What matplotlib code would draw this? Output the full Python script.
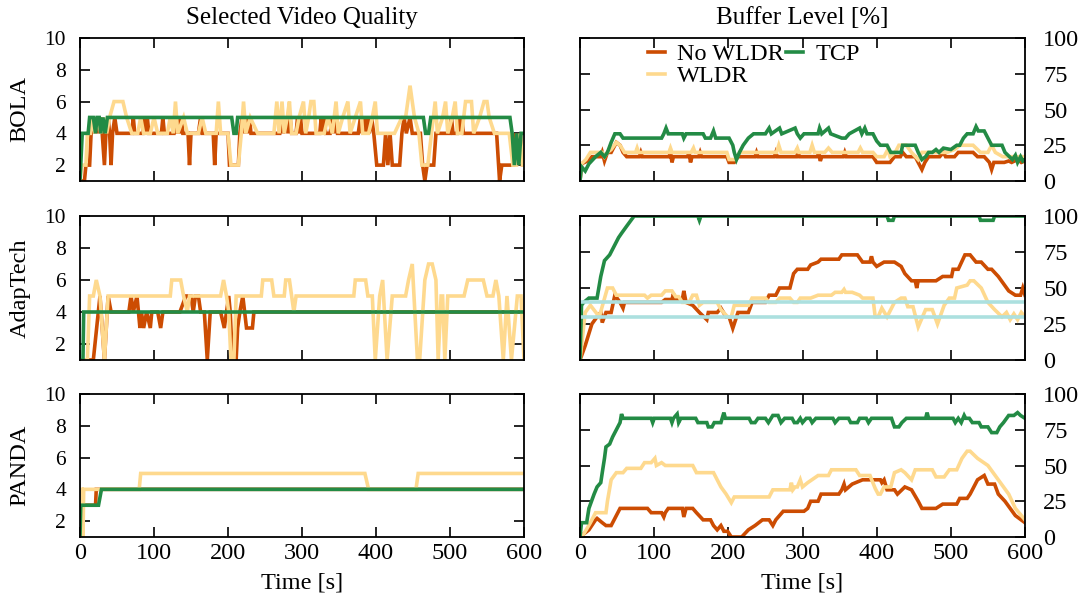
import matplotlib
matplotlib.use("Agg")
import matplotlib.pyplot as plt
from matplotlib.lines import Line2D

# ---------------------------------------------------------------- data
# Each series is a list of (time [s], value) knots joined by straight lines.

# BOLA: selected quality level
bola_q_nowldr = [(0,1),(6,1),(8,2),(13,2),(15,4),(18,5),(20,4),(23,5),(25,4),(28,5),(30,4),(33,2),(35,4),(38,5),(40,4),(42,2),(44,4),(47,5),(50,4),(70,4),(72,5),(74,4),(85,4),(87,5),(89,4),(91,5),(93,4),(110,4),(112,5),(114,4),(127,4),(129,5),(131,4),(133,5),(135,4),(137,5),(139,4),(146,4),(148,2),(150,4),(160,4),(163,5),(165,4),(180,4),(182,2),(184,4),(200,4),(202,2),(214,2),(216,4),(219,5),(221,4),(224,5),(226,4),(229,5),(231,4),(270,4),(273,5),(275,4),(279,5),(281,4),(284,5),(286,4),(292,4),(294,5),(296,4),(298,5),(300,4),(324,4),(326,5),(328,4),(330,5),(332,4),(338,4),(341,5),(343,4),(346,5),(348,4),(376,4),(379,5),(381,4),(384,5),(386,4),(389,5),(391,4),(394,5),(397,4),(401,2),(410,2),(413,4),(416,2),(419,4),(422,2),(432,2),(435,4),(438,5),(441,4),(446,5),(449,4),(460,4),(463,2),(466,1),(469,2),(478,2),(481,4),(500,4),(502,5),(504,4),(510,4),(512,5),(514,4),(516,5),(518,4),(563,4),(567,1),(570,2),(586,2),(589,4),(592,2),(595,4),(598,2),(600,2)]
bola_q_wldr = [(0,1),(2,2),(8,2),(10,4),(14,4),(17,5),(20,4),(24,5),(28,4),(32,5),(36,4),(40,5),(46,6),(58,6),(63,5),(70,4),(78,4),(82,5),(86,4),(95,4),(100,5),(105,4),(118,4),(122,5),(126,4),(129,6),(132,4),(140,5),(145,4),(160,4),(165,5),(170,4),(184,4),(187,6),(190,4),(200,4),(204,2),(214,2),(218,4),(221,6),(224,4),(230,5),(240,4),(262,4),(266,6),(269,4),(273,6),(276,4),(280,5),(283,6),(286,4),(292,4),(296,5),(302,6),(305,4),(309,5),(312,6),(316,6),(319,4),(330,4),(335,5),(341,4),(346,6),(349,4),(355,5),(362,6),(365,4),(372,5),(379,6),(382,4),(390,4),(395,5),(399,6),(402,4),(420,4),(425,4),(435,5),(440,5),(446,7),(452,5),(458,4),(462,2),(470,2),(475,4),(480,6),(483,4),(490,5),(494,6),(497,4),(503,5),(507,6),(510,4),(516,4),(521,6),(529,6),(532,4),(540,5),(546,6),(550,6),(553,5),(560,4),(580,4),(585,2),(590,2),(595,4),(598,2),(600,2)]
bola_q_tcp = [(0,1),(3,4),(11,4),(13,5),(18,5),(21,4),(23,5),(26,5),(28,4),(31,5),(34,4),(37,5),(205,5),(208,4),(211,4),(213,5),(464,5),(467,4),(471,4),(474,5),(581,5),(584,4),(587,2),(590,4),(593,2),(596,4),(600,4)]

# BOLA: buffer level
bola_b_nowldr = [(0,0),(2,12),(10,14),(16,17),(28,17),(30,20),(33,14),(37,20),(42,20),(49,27),(54,25),(58,20),(63,17),(80,17),(82,20),(84,17),(120,17),(122,20),(124,13),(126,17),(145,17),(147,20),(149,13),(151,17),(160,17),(162,20),(164,17),(198,17),(201,13),(208,13),(213,17),(236,17),(238,20),(240,17),(262,17),(264,20),(266,17),(292,17),(294,20),(296,17),(320,17),(322,20),(324,14),(326,17),(355,17),(357,20),(359,17),(395,17),(400,13),(418,13),(424,17),(432,17),(435,20),(440,17),(452,17),(456,13),(461,8),(465,13),(470,17),(485,17),(490,20),(493,17),(505,17),(510,20),(520,20),(530,20),(536,17),(545,17),(552,13),(555,8),(558,13),(572,13),(578,14),(582,13),(590,15),(595,13),(600,14)]
bola_b_wldr = [(0,0),(2,12),(8,15),(14,20),(30,20),(33,17),(37,20),(42,22),(49,27),(54,25),(60,20),(75,20),(77,23),(79,20),(120,20),(122,23),(124,20),(150,20),(153,23),(155,20),(198,20),(201,15),(210,15),(215,20),(265,20),(268,25),(271,20),(290,20),(293,23),(295,20),(310,20),(313,25),(316,20),(330,20),(335,23),(340,20),(375,20),(378,23),(381,20),(395,20),(400,17),(410,17),(415,22),(418,17),(425,20),(430,25),(440,25),(447,20),(456,15),(461,20),(475,20),(495,20),(505,22),(512,25),(530,25),(540,20),(550,20),(555,25),(560,20),(570,17),(600,17)]
bola_b_tcp = [(0,0),(2,10),(7,7),(12,12),(21,17),(28,20),(33,17),(37,20),(42,27),(47,33),(54,33),(58,30),(110,30),(113,33),(116,37),(119,33),(138,33),(140,30),(143,33),(166,33),(169,30),(176,30),(180,35),(183,30),(201,30),(206,25),(208,20),(211,15),(215,20),(220,25),(227,30),(234,33),(250,33),(255,37),(258,33),(269,37),(272,33),(290,37),(293,33),(297,30),(302,33),(321,33),(323,37),(326,33),(335,37),(338,33),(353,30),(358,30),(363,33),(377,37),(380,33),(384,37),(387,33),(395,33),(400,28),(405,25),(414,25),(419,20),(433,20),(435,25),(452,25),(456,20),(461,15),(466,17),(470,20),(475,20),(480,22),(484,20),(490,23),(500,22),(508,25),(512,25),(517,30),(522,33),(530,33),(534,38),(537,35),(545,35),(550,30),(555,25),(569,25),(573,20),(583,15),(587,18),(590,13),(594,17),(597,14),(600,15)]

# AdapTech: selected quality level
adap_q_nowldr = [(0,1),(18,1),(27,5),(33,1),(38,5),(42,4),(66,4),(69,5),(72,4),(77,5),(81,3),(83,4),(86,3),(90,4),(95,3),(97,4),(105,4),(109,3),(112,4),(135,4),(143,5),(150,5),(153,4),(156,5),(160,5),(163,4),(168,4),(172,1),(176,4),(190,4),(195,3),(201,5),(203,4),(206,1),(211,1),(213,3),(216,4),(220,5),(225,3),(233,3),(235,4),(600,4)]
adap_q_wldr = [(0,1),(10,1),(13,5),(18,5),(22,6),(27,5),(33,1),(38,5),(122,5),(124,6),(136,6),(140,5),(145,4),(148,5),(190,5),(194,6),(198,5),(201,4),(204,1),(208,1),(211,5),(245,5),(247,6),(259,6),(262,5),(276,5),(278,6),(283,6),(286,5),(289,4),(292,5),(370,5),(372,6),(386,6),(389,5),(395,5),(399,1),(405,5),(409,6),(415,1),(422,5),(440,5),(444,6),(449,7),(456,1),(459,1),(466,6),(471,7),(476,7),(481,6),(484,1),(488,5),(490,5),(493,1),(497,5),(519,5),(524,6),(545,6),(550,5),(558,5),(562,6),(566,5),(572,1),(577,5),(583,1),(591,5),(596,5),(600,1)]
adap_q_tcp = [(0,1),(4,1),(5,4),(600,4)]

# AdapTech: buffer level
adap_b_nowldr = [(0,0),(7,10),(16,25),(23,30),(28,33),(30,26),(35,33),(42,33),(47,45),(54,40),(58,36),(60,40),(110,40),(115,42),(124,42),(126,46),(128,42),(138,42),(140,48),(143,40),(152,38),(161,33),(171,28),(173,33),(185,33),(190,36),(197,30),(201,30),(206,22),(213,33),(227,33),(232,40),(250,40),(255,45),(264,45),(269,50),(283,50),(288,60),(293,63),(307,63),(311,66),(321,68),(325,70),(349,70),(353,73),(374,73),(381,68),(391,68),(393,72),(395,68),(400,65),(410,68),(424,68),(433,65),(438,60),(447,55),(452,55),(454,50),(456,55),(480,55),(489,58),(501,58),(503,63),(510,63),(519,73),(526,73),(534,68),(541,68),(550,63),(555,63),(564,58),(571,53),(578,48),(587,45),(594,45),(597,50),(600,45)]
adap_b_wldr = [(0,0),(7,33),(14,38),(26,30),(37,50),(44,50),(49,45),(87,45),(91,43),(96,45),(110,45),(115,48),(124,48),(129,44),(133,44),(138,40),(147,40),(152,45),(157,45),(161,38),(166,40),(185,40),(190,35),(199,30),(204,30),(208,38),(227,38),(232,43),(250,43),(255,40),(264,40),(269,43),(283,43),(288,40),(293,40),(297,43),(311,43),(321,45),(339,45),(344,47),(353,47),(356,49),(358,47),(367,47),(377,45),(381,43),(395,43),(398,30),(402,30),(407,36),(414,30),(424,40),(433,43),(438,43),(442,37),(449,37),(456,23),(466,35),(475,35),(482,25),(491,38),(498,43),(505,43),(508,50),(522,52),(526,55),(531,55),(541,50),(550,40),(559,35),(569,30),(575,33),(580,28),(585,32),(590,28),(595,33),(600,30)]
adap_b_tcp = [(0,0),(2,38),(5,40),(12,43),(23,43),(28,58),(33,69),(40,73),(47,80),(52,85),(56,88),(63,93),(73,100),(159,100),(161,97),(163,100),(414,100),(416,97),(422,97),(424,100),(538,100),(540,97),(557,97),(559,100),(600,100)]
adap_b_thresholds = [30, 40]

# PANDA: selected quality level
panda_q_nowldr = [(0,1),(3,1),(4,3),(21,3),(22,4),(600,4)]
panda_q_wldr = [(0,4),(3,4),(4,1),(5,4),(80,4),(82,5),(385,5),(390,4),(454,4),(457,5),(600,5)]
panda_q_tcp = [(0,1),(1,3),(25,3),(29,4),(600,4)]

# PANDA: buffer level
panda_b_nowldr = [(0,0),(12,5),(21,12),(23,13),(30,10),(35,8),(42,8),(54,20),(91,20),(96,17),(110,17),(113,14),(115,17),(119,20),(138,20),(140,14),(143,20),(152,20),(157,17),(166,12),(176,12),(180,8),(185,5),(190,8),(194,4),(199,4),(204,0),(218,0),(227,5),(236,8),(246,12),(255,12),(260,8),(264,12),(274,18),(302,18),(307,20),(311,25),(321,25),(325,30),(349,30),(353,33),(356,37),(358,33),(367,37),(381,40),(405,40),(407,38),(410,40),(414,33),(424,33),(428,30),(438,35),(447,33),(456,25),(461,20),(480,20),(489,23),(508,23),(512,27),(522,27),(526,30),(531,35),(536,40),(545,43),(550,37),(559,37),(564,30),(573,25),(587,15),(600,10)]
panda_b_wldr = [(0,0),(5,2),(14,10),(21,17),(35,17),(37,25),(42,40),(49,45),(58,45),(63,48),(82,48),(87,52),(96,52),(101,55),(103,50),(110,52),(115,50),(152,50),(157,45),(180,45),(185,40),(190,35),(197,30),(204,24),(208,28),(255,28),(260,33),(283,33),(285,38),(287,33),(290,35),(293,35),(297,40),(300,35),(307,38),(321,43),(335,43),(339,47),(372,47),(377,43),(391,43),(398,34),(402,30),(405,30),(410,35),(419,35),(424,45),(433,47),(438,45),(447,40),(452,47),(475,47),(480,42),(491,42),(498,47),(508,47),(515,55),(522,60),(526,60),(536,55),(550,50),(564,40),(578,30),(587,20),(600,12)]
panda_b_tcp = [(0,0),(2,10),(9,10),(12,20),(19,30),(23,35),(28,38),(30,45),(33,55),(35,63),(40,65),(44,70),(49,75),(54,80),(56,86),(58,83),(96,83),(98,80),(100,83),(122,83),(124,80),(126,83),(131,86),(133,80),(136,83),(156,83),(159,80),(171,80),(173,77),(178,77),(181,80),(190,80),(194,87),(196,83),(228,83),(231,80),(236,80),(240,83),(250,83),(254,80),(260,85),(267,85),(271,80),(276,83),(286,83),(289,80),(293,80),(297,83),(300,80),(305,83),(310,83),(313,80),(318,83),(341,83),(344,80),(349,83),(362,83),(365,80),(374,80),(377,83),(386,83),(389,80),(393,83),(420,83),(424,77),(430,77),(434,80),(440,83),(466,83),(468,87),(470,83),(503,83),(506,80),(510,83),(514,80),(518,85),(520,83),(525,83),(529,80),(538,80),(541,77),(550,77),(555,73),(562,73),(566,77),(571,80),(578,85),(585,85),(590,87),(594,85),(600,83)]

schemes = ["BOLA", "AdapTech", "PANDA"]
series_labels = ["No WLDR", "WLDR", "TCP"]
time_ticks = [0, 100, 200, 300, 400, 500, 600]
quality_ticks = [2, 4, 6, 8, 10]
buffer_ticks = [0, 25, 50, 75, 100]

quality = [
    [bola_q_nowldr, bola_q_wldr, bola_q_tcp],
    [adap_q_nowldr, adap_q_wldr, adap_q_tcp],
    [panda_q_nowldr, panda_q_wldr, panda_q_tcp],
]
buffer = [
    [bola_b_nowldr, bola_b_wldr, bola_b_tcp],
    [adap_b_nowldr, adap_b_wldr, adap_b_tcp],
    [panda_b_nowldr, panda_b_wldr, panda_b_tcp],
]

# ---------------------------------------------------------------- style
colors = ["#cc4c02", "#fed98e", "#238b45"]
threshold_color = "#ace0df"
LW = 2.6
FS = 17.5          # titles, labels, x and right-hand tick labels
FS_LEFT = 15.5     # left-hand quality tick labels

plt.rcParams["font.family"] = ["Liberation Serif", "DejaVu Serif"]
plt.rcParams["font.size"] = FS

W, H = 1084, 599
fig = plt.figure(figsize=(W / 100, H / 100), dpi=100)


def add_axes_px(x0, x1, y0, y1):
    return fig.add_axes([x0 / W, 1 - y1 / H, (x1 - x0) / W, (y1 - y0) / H])


row_px = [(38, 181), (216, 360), (394, 537)]
left_px = (80, 524)
right_px = (580, 1025)


def style_axes(ax, right_labels, bottom_labels):
    for s in ax.spines.values():
        s.set_linewidth(1.3)
    ax.set_xlim(0, 600)
    ax.set_xticks(time_ticks)
    ax.tick_params(direction="in", length=7, width=1.2, top=True, right=True,
                   labelsize=FS, pad=4)
    if right_labels:
        ax.tick_params(axis="y", labelleft=False, labelright=True, pad=13)
    else:
        ax.tick_params(axis="y", labelsize=FS_LEFT, pad=10)
    if not bottom_labels:
        ax.tick_params(axis="x", labelbottom=False)


def draw_series(ax, series):
    for pts, c in zip(series, colors):
        t = [p[0] for p in pts]
        v = [p[1] for p in pts]
        ax.plot(t, v, color=c, lw=LW, solid_joinstyle="miter")


for r, (y0, y1) in enumerate(row_px):
    last = r == len(row_px) - 1

    axq = add_axes_px(*left_px, y0, y1)
    draw_series(axq, quality[r])
    axq.set_ylim(1, 10)
    axq.set_yticks(quality_ticks)
    style_axes(axq, right_labels=False, bottom_labels=last)

    axb = add_axes_px(*right_px, y0, y1)
    draw_series(axb, buffer[r])
    if schemes[r] == "AdapTech":
        for level in adap_b_thresholds:
            axb.axhline(level, color=threshold_color, lw=LW)
    axb.set_ylim(0, 100)
    axb.set_yticks(buffer_ticks)
    style_axes(axb, right_labels=True, bottom_labels=last)

    fig.text(20 / W, 1 - (y0 + y1) / 2 / H, schemes[r], rotation=90,
             ha="center", va="center", fontsize=FS)

    if r == 0:
        handles = [Line2D([], [], color=c, lw=LW) for c in colors]
        axb.legend(handles, series_labels, ncol=2, loc="upper left",
                   bbox_to_anchor=(0.153, 0.965), frameon=False,
                   handlelength=0.7, handletextpad=0.5, columnspacing=0.1,
                   labelspacing=0.0, borderpad=0, borderaxespad=0,
                   fontsize=FS)

fig.text(sum(left_px) / 2 / W, 1 - 18 / H, "Selected Video Quality",
         ha="center", va="center", fontsize=18)
fig.text(sum(right_px) / 2 / W, 1 - 18 / H, "Buffer Level [%]",
         ha="center", va="center", fontsize=18)
for xs in (left_px, right_px):
    fig.text(sum(xs) / 2 / W, 1 - 583 / H, "Time [s]",
             ha="center", va="center", fontsize=FS)

fig.savefig("out.png", dpi=100)
